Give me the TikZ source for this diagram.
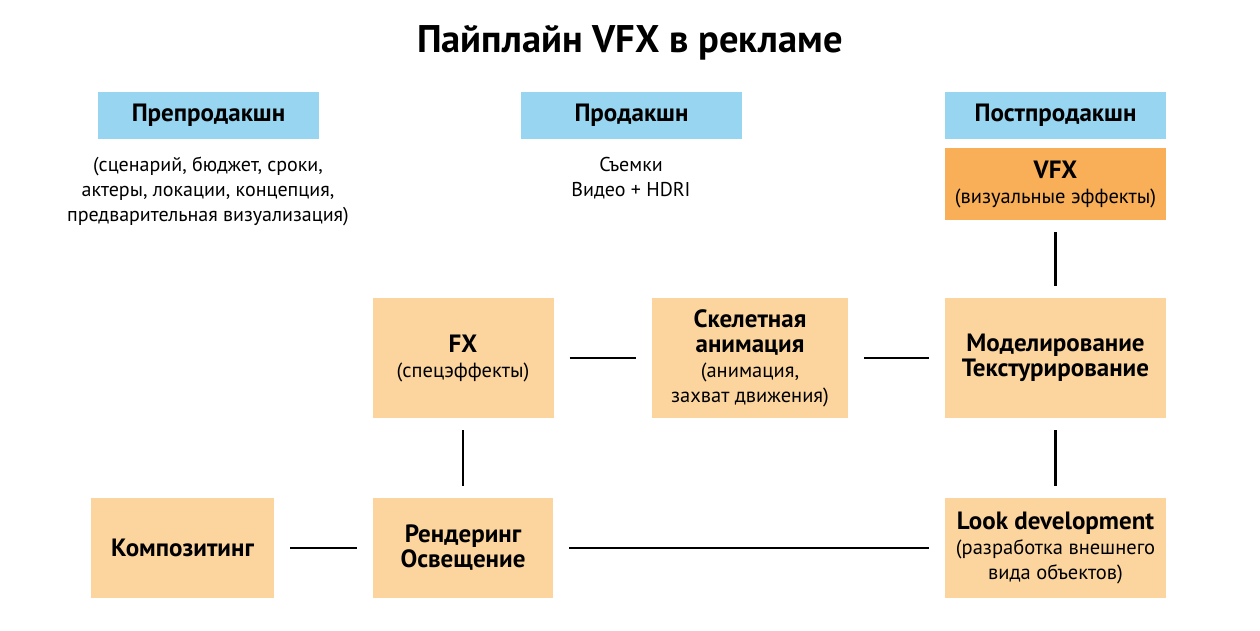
\documentclass[tikz,border=0pt]{standalone}
\usepackage{fontspec}
\setmainfont{PT Sans}
\definecolor{stageblue}{HTML}{97D5F0}
\definecolor{taskfill}{HTML}{FCD59E}
\definecolor{vfxfill}{HTML}{F8AF57}
\tikzset{
  stage/.style={fill=stageblue,minimum width=221pt,minimum height=47pt,inner sep=0pt,
    font=\fontsize{25}{25}\selectfont\bfseries},
  note/.style={align=center,font=\fontsize{20}{25}\selectfont},
  task/.style={fill=taskfill,inner sep=0pt,align=center,font=\fontsize{20.5}{25}\selectfont},
  hlink/.style={line width=2.6pt,shorten <=16pt,shorten >=16pt},
  vlink/.style={line width=2.6pt,shorten <=12pt,shorten >=12pt}
}
\newcommand{\hd}[1]{{\fontsize{25}{25}\selectfont\bfseries #1}}
\begin{document}
\begin{tikzpicture}
	  [x=1pt,y=-1pt]
	\useasboundingbox (0,0) rectangle (1260,630);
	\node[font=\fontsize{38.5}{40}\selectfont\bfseries] (title) at (630,43) {Пайплайн VFX в рекламе};

	% stages
	\node[stage] (pre)  at (208.5,115)  {Препродакшн};
	\node[stage] (prod) at (631.5,115)  {Продакшн};
	\node[stage] (post) at (1055.5,115) {Постпродакшн};
	\node[note] (pretxt)  at (208,191) {(сценарий, бюджет, сроки,\\актеры, локации, концепция,\\предварительная визуализация)};
	\node[note] (prodtxt) at (631,178.5) {Съемки\\Видео + HDRI};

	% tasks
	\node[task,fill=vfxfill,minimum width=221pt,minimum height=72pt] (vfx) at (1055.5,184) {\hd{VFX}\\(визуальные эффекты)};
	\node[task,minimum width=181pt,minimum height=120pt] (fx)   at (463,358) {\hd{FX}\\(спецэффекты)};
	\node[task,minimum width=196pt,minimum height=120pt] (skel) at (750,358)   {\hd{Скелетная}\\\hd{анимация}\\(анимация,\\захват движения)};
	\node[task,minimum width=221pt,minimum height=120pt] (model) at (1055.5,358) {\hd{Моделирование}\\\hd{Текстурирование}};
	\node[task,minimum width=183pt,minimum height=100pt] (comp) at (182.5,548) {\hd{Композитинг}};
	\node[task,minimum width=180pt,minimum height=100pt] (rend) at (463,548)   {\hd{Рендеринг}\\\hd{Освещение}};
	\node[task,minimum width=221pt,minimum height=100pt] (look) at (1055.5,548) {\hd{Look development}\\(разработка внешнего\\вида объектов)};

	\foreach \from/\to in {fx/skel,skel/model,comp/rend,rend/look}
	  \draw[hlink] (\from) -- (\to);
	\foreach \from/\to in {vfx/model,model/look,fx/rend}
	  \draw[vlink] (\from) -- (\to);
\end{tikzpicture}
\end{document}
